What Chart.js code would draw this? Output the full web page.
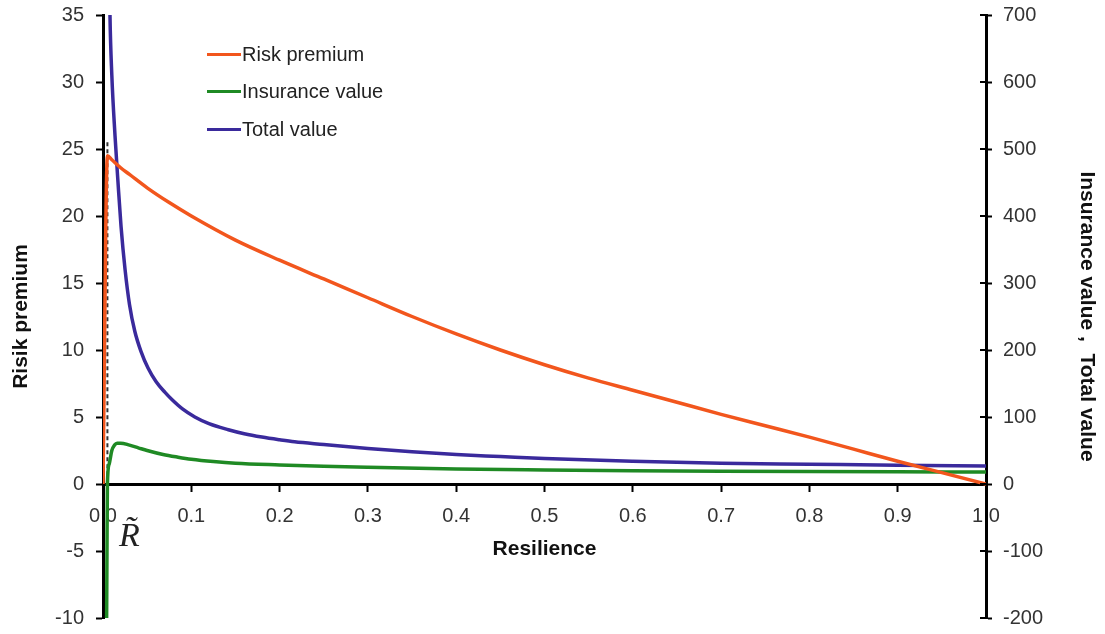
<!DOCTYPE html>
<html><head><meta charset="utf-8">
<script src="https://cdn.jsdelivr.net/npm/chart.js@4.4.0/dist/chart.umd.min.js"></script>
<style>
html,body{margin:0;padding:0;background:#fff;}
#wrap{position:relative;width:1105px;height:634px;}
canvas{display:block;}
#legend{position:absolute;left:207px;top:42px;font-family:"Liberation Sans",Arial,sans-serif;font-size:20px;color:#222;}
.item{display:flex;align-items:center;height:24px;margin-bottom:13.5px;white-space:nowrap;}
.sw{width:34px;height:3px;margin-right:1px;}
</style></head><body>
<div id="wrap"><canvas id="c" width="1105" height="634"></canvas><div id="legend"></div></div>
<script>
// ---- data ----
const seriesNames = ['Risk premium', 'Insurance value', 'Total value'];
const seriesColors = ['#f2561d', '#1f8a24', '#3a2a9c'];

const premiumX = [0, 0.005, 0.01, 0.02, 0.03, 0.05, 0.075, 0.1, 0.15, 0.2, 0.25, 0.3, 0.35, 0.4, 0.45, 0.5, 0.55, 0.6, 0.65, 0.7, 0.75, 0.8, 0.85, 0.9, 0.95, 1.0];
const premiumY = [0, 24.5, 24.2, 23.6, 23.1, 22.1, 21.0, 20.0, 18.2, 16.7, 15.3, 13.9, 12.5, 11.2, 10.0, 8.9, 7.9, 7.0, 6.1, 5.2, 4.35, 3.5, 2.6, 1.7, 0.85, 0];

const insuranceX = [0.004, 0.0045, 0.005, 0.007, 0.01, 0.013, 0.016, 0.02, 0.03, 0.04, 0.05, 0.068, 0.085, 0.1, 0.125, 0.15, 0.2, 0.25, 0.3, 0.4, 0.5, 0.6, 0.7, 0.8, 0.9, 1.0];
const insuranceY = [-230, -100, 0, 30, 50, 58, 61, 61, 58, 54, 50, 44, 40, 37, 33.5, 31, 28.5, 26.5, 25, 22.5, 21, 19.8, 19, 18.5, 18.2, 18];

const totalX = [0.006, 0.0079, 0.010, 0.0136, 0.017, 0.0204, 0.025, 0.03, 0.036, 0.043, 0.051, 0.06, 0.07, 0.078, 0.09, 0.104, 0.12, 0.142, 0.16, 0.18, 0.2, 0.217, 0.25, 0.3, 0.35, 0.4, 0.45, 0.5, 0.6, 0.7, 0.8, 0.9, 1.0];
const totalY = [900, 700, 610, 520, 450, 385, 320, 268, 228, 198, 173, 153, 137, 126, 112, 100, 90, 81, 75, 70, 66, 63, 59, 53, 48, 44, 41, 38, 34, 31, 29.5, 28, 27];

const rTildeX = [0.005, 0.005];
const rTildeY = [25.5, 0];

const xTicks = {min: 0, max: 1, step: 0.1};
const leftTicks = {min: -10, max: 35, step: 5};
const rightTicks = {min: -200, max: 700, step: 100};

const toXY = (xs, ys) => xs.map((x, i) => ({x, y: ys[i]}));

// ---- legend (HTML text) ----
const lg = document.getElementById('legend');
seriesNames.forEach((n, i) => {
  const d = document.createElement('div'); d.className = 'item';
  const s = document.createElement('span'); s.className = 'sw'; s.style.background = seriesColors[i];
  const t = document.createElement('span'); t.textContent = n;
  d.appendChild(s); d.appendChild(t); lg.appendChild(d);
});

const tickFont = {family: '"Liberation Sans", Arial, sans-serif', size: 20};
const titleFont = {family: '"Liberation Sans", Arial, sans-serif', size: 21, weight: 'bold'};

const extras = {
  id: 'extras',
  afterDraw(chart) {
    const ctx = chart.ctx;
    const s = chart.scales.y2;
    ctx.save();
    ctx.strokeStyle = '#000'; ctx.lineWidth = 2;
    s.ticks.forEach((t, i) => {
      const py = Math.round(s.getPixelForTick(i));
      ctx.beginPath(); ctx.moveTo(s.left - 6, py); ctx.lineTo(s.left, py); ctx.stroke();
    });
    const xs = chart.scales.x, ys = chart.scales.y;
    ctx.fillStyle = '#222';
    ctx.font = 'italic 34px "Liberation Serif", "DejaVu Serif", serif';
    ctx.textBaseline = 'alphabetic';
    ctx.textAlign = 'left';
    ctx.fillText('R\u0303', xs.getPixelForValue(0.018), ys.getPixelForValue(-4.6));
    ctx.restore();
  }
};

const fitV = w => s => { s.width = w; s.paddingTop = 0; s.paddingBottom = 0; };

new Chart(document.getElementById('c'), {
  type: 'line',
  data: {
    datasets: [
      {label: seriesNames[0], data: toXY(premiumX, premiumY), yAxisID: 'y', borderColor: seriesColors[0], borderWidth: 3.5, pointRadius: 0, cubicInterpolationMode: 'monotone'},
      {label: seriesNames[1], data: toXY(insuranceX, insuranceY), yAxisID: 'y2', borderColor: seriesColors[1], borderWidth: 3.5, pointRadius: 0, cubicInterpolationMode: 'monotone'},
      {label: seriesNames[2], data: toXY(totalX, totalY), yAxisID: 'y2', borderColor: seriesColors[2], borderWidth: 3.5, pointRadius: 0, cubicInterpolationMode: 'monotone'},
      {label: 'R~', data: toXY(rTildeX, rTildeY), yAxisID: 'y', borderColor: '#333', borderWidth: 2, borderDash: [4, 3], pointRadius: 0}
    ]
  },
  options: {
    responsive: false,
    animation: false,
    devicePixelRatio: 1,
    layout: {padding: {top: 15, bottom: 16, left: 0, right: 0}},
    plugins: {legend: {display: false}, tooltip: {enabled: false}},
    scales: {
      x: {
        type: 'linear', min: xTicks.min, max: xTicks.max, position: {y: 0},
        ticks: {stepSize: xTicks.step, callback: v => Number(v).toFixed(1), font: tickFont, color: '#333', padding: 14, maxRotation: 0, autoSkip: false},
        grid: {drawOnChartArea: false, drawTicks: true, tickLength: 6, tickColor: '#000', tickWidth: 2},
        border: {color: '#000', width: 3},
        title: {display: true, text: 'Resilience', font: titleFont, color: '#111', padding: {top: -5, bottom: 0}}
      },
      y: {
        type: 'linear', position: 'left', min: leftTicks.min, max: leftTicks.max,
        ticks: {stepSize: leftTicks.step, font: tickFont, color: '#333', padding: 12},
        grid: {drawOnChartArea: false, tickLength: 7, tickColor: '#000', tickWidth: 2},
        border: {color: '#000', width: 3},
        title: {display: true, text: 'Risik premium', font: titleFont, color: '#111', padding: {top: 9, bottom: 4}},
        afterFit: fitV(103)
      },
      y2: {
        type: 'linear', position: 'right', min: rightTicks.min, max: rightTicks.max,
        ticks: {stepSize: rightTicks.step, font: tickFont, color: '#333', padding: 11},
        grid: {drawOnChartArea: false, tickLength: 6, tickColor: '#000', tickWidth: 2},
        border: {color: '#000', width: 3},
        title: {display: true, text: 'Insurance value ,  Total value', font: titleFont, color: '#111', padding: {top: 6, bottom: 4}},
        afterFit: fitV(119)
      }
    }
  },
  plugins: [extras]
});
</script>
</body></html>
